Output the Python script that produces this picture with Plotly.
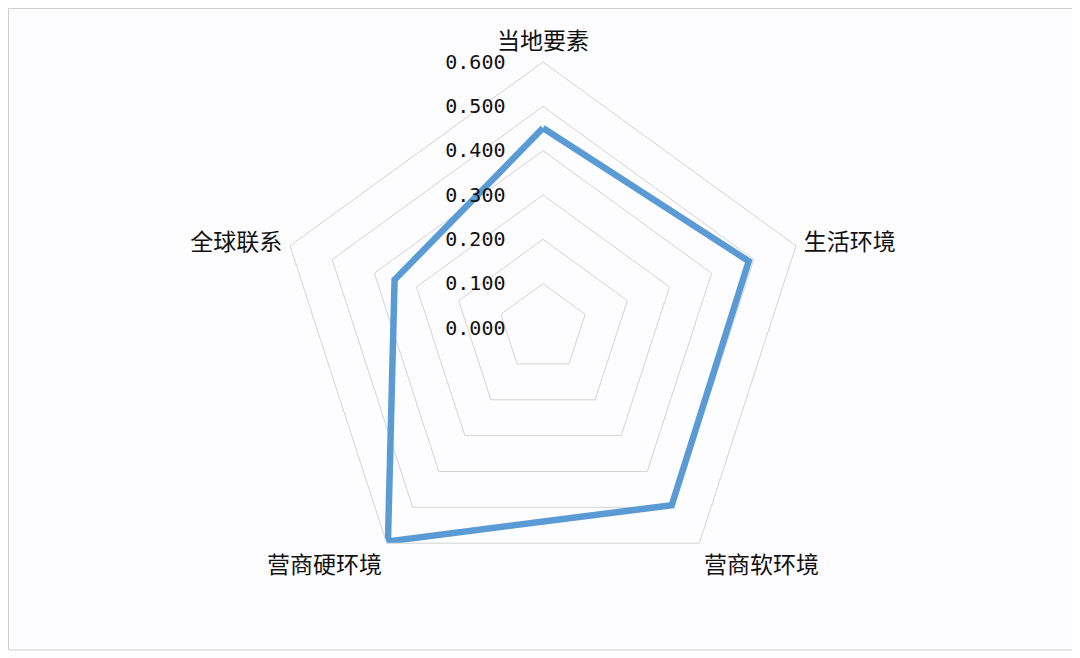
import plotly.graph_objects as go

# radar categories, clockwise from the top
categories = ['当地要素', '生活环境', '营商软环境', '营商硬环境', '全球联系']
values = [0.451, 0.488, 0.494, 0.595, 0.352]

tick_vals = [0.0, 0.1, 0.2, 0.3, 0.4, 0.5, 0.6]
tick_text = ['0.000', '0.100', '0.200', '0.300', '0.400', '0.500', '0.600']

# page has an 8px body margin, so the figure is a bit smaller than the window
W, H = 1072, 650
cx, cy, R = 535, 320, 266

fig = go.Figure()
fig.add_trace(go.Scatterpolar(
    r=values + values[:1],
    theta=categories + categories[:1],
    mode='lines',
    line=dict(color='#5b9bd5', width=6.5),
    hoverinfo='skip',
))

fig.update_layout(
    width=W,
    height=H,
    margin=dict(l=0, r=0, t=0, b=0),
    paper_bgcolor='#fdfcfe',
    showlegend=False,
    polar=dict(
        domain=dict(x=[(cx - R) / W, (cx + R) / W],
                    y=[(H - cy - R) / H, (H - cy + R) / H]),
        gridshape='linear',
        bgcolor='rgba(0,0,0,0)',
        angularaxis=dict(
            rotation=90,
            direction='clockwise',
            showgrid=False,
            showline=True,
            linecolor='#d4d4d4',
            linewidth=1,
            ticks='outside',
            ticklen=3,
            tickcolor='rgba(0,0,0,0)',
            tickfont=dict(family='Noto Sans CJK SC', size=23, color='#111111'),
        ),
        radialaxis=dict(
            range=[0, 0.6],
            angle=90,
            side='counterclockwise',
            tickangle=90,
            tickvals=tick_vals,
            ticktext=tick_text,
            showline=False,
            showgrid=True,
            gridcolor='#d4d4d4',
            gridwidth=1,
            ticks='outside',
            ticklen=30,
            tickcolor='rgba(0,0,0,0)',
            tickfont=dict(family='DejaVu Sans Mono', size=20, color='#111111'),
        ),
    ),
    shapes=[dict(
        type='rect', xref='paper', yref='paper',
        x0=0.5 / W, x1=1069 / W, y0=1 - 642 / H, y1=1 - 0.5 / H,
        line=dict(color='#cfcfcf', width=1),
        fillcolor='rgba(0,0,0,0)',
    )],
)

fig.write_html("out.html")
